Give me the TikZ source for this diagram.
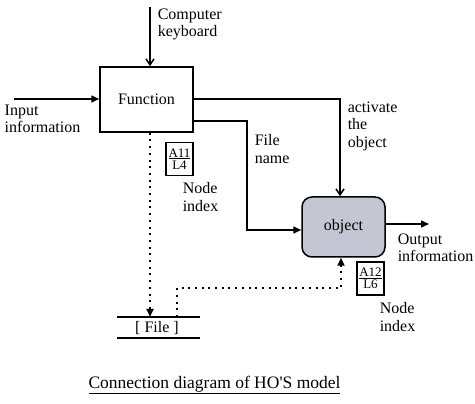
\documentclass[tikz,border=0pt]{standalone}
\usepackage{fontspec}
\setmainfont{Liberation Serif}
\usetikzlibrary{arrows.meta}
\begin{document}
\begin{tikzpicture}[x=1pt,y=-1pt,
  line width=1.5pt,
  txt/.style={font=\fontsize{16}{17.5}\selectfont, align=left, inner sep=0pt, anchor=north west},
  fillarr/.style={-{Triangle[length=8pt,width=7pt]}},
  openarr/.style={-{Straight Barb[length=6pt,width=8pt]}},
  dots/.style={dash pattern=on 2pt off 4.7pt, line width=2pt},
  idx/.style={draw, line width=1.3pt, font=\fontsize{13}{13}\selectfont, align=center, inner sep=1.5pt, minimum width=27pt, minimum height=33pt}]
\useasboundingbox (0,0) rectangle (475,404);
% Function box
\node[draw, minimum width=93pt, minimum height=65pt, inner sep=0pt, font=\fontsize{16}{17.5}\selectfont] (fun) at (146.5,99.5) {Function};
% Object box
\node[draw, rounded corners=10pt, fill={rgb,255:red,196;green,198;blue,212}, minimum width=83pt, minimum height=60pt, inner sep=0pt, font=\fontsize{16}{17.5}\selectfont] (obj) at (343.5,227) {object};
% keyboard
\coordinate (kb) at (150,7);
\draw[openarr] (kb) -- (fun.north -| kb);
\node[txt] (kbt) at (157,8) {Computer\\keyboard};
% input
\coordinate (in) at (14,99);
\draw[fillarr] (in) -- (fun.west |- in);
\node[txt] (int) at (4,104) {Input\\information};
% activate
\coordinate (a1) at (193,99);
\coordinate (a2) at (340,99);
\draw[openarr] (a1) -- (a2) -- (obj.north -| a2);
\node[txt] (act) at (347,101) {activate\\the\\object};
% file name
\coordinate (f1) at (193,121);
\coordinate (f2) at (247,121);
\coordinate (f3) at (247,230);
\draw[fillarr] (f1) -- (f2) -- (f3) -- (obj.west |- f3);
\node[txt] (fnt) at (254,134) {File\\name};
% output
\coordinate (out) at (429,224);
\draw[fillarr] (obj.east |- out) -- (out);
\node[txt] (outt) at (397,233) {Output\\information};
% file store
\coordinate (fl1) at (117,317);
\coordinate (fr1) at (200,317);
\coordinate (fl2) at (117,338);
\coordinate (fr2) at (200,338);
\draw (fl1) -- (fr1);
\draw (fl2) -- (fr2);
\node[font=\fontsize{16}{17.5}\selectfont, inner sep=0pt] (file) at (157,328) {[ File ]};
% dotted connectors
\coordinate (d1) at (150,317);
\draw[dots, fillarr] (fun.south -| d1) -- (d1);
\coordinate (e1) at (177,317);
\coordinate (e2) at (177,288);
\coordinate (e3) at (341,288);
\draw[dots, fillarr] (e1) -- (e2) -- (e3) -- (obj.south -| e3);
% index boxes
\node[idx] (i1) at (179.5,159) {\underline{A11}\\[-1pt]L4};
\node[txt] (n1) at (182,182) {Node\\index};
\node[idx] (i2) at (370.5,278.5) {\underline{A12}\\[-1pt]L6};
\node[txt] (n2) at (379,302) {Node\\index};
% caption
\node[font=\fontsize{17.5}{20}\selectfont, inner sep=0pt] (cap) at (214.5,385) {\underline{Connection diagram of HO\textquotesingle S model}};
\end{tikzpicture}
\end{document}
